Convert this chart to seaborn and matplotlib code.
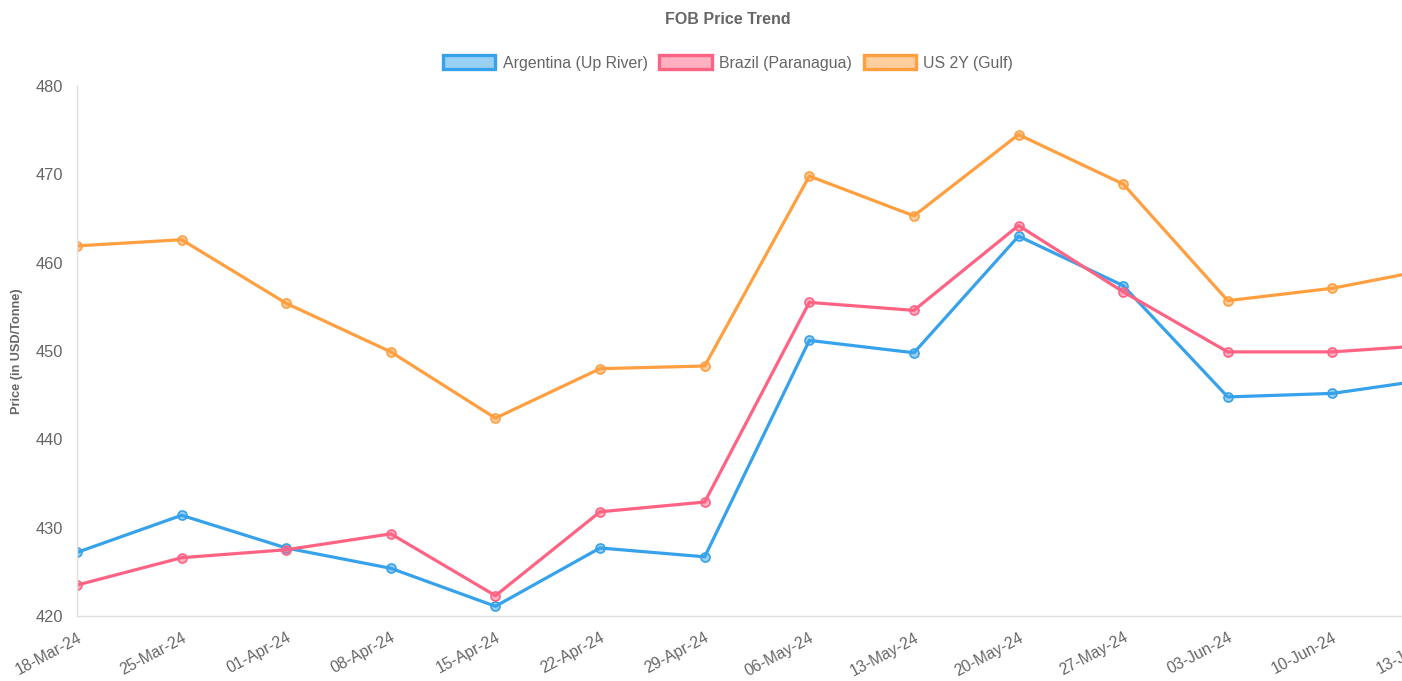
import matplotlib
matplotlib.use("Agg")
import matplotlib.pyplot as plt
import seaborn as sns
import pandas as pd
from matplotlib.patches import Patch
from matplotlib.colors import to_rgba

dates = ["18-Mar-24", "25-Mar-24", "01-Apr-24", "08-Apr-24", "15-Apr-24", "22-Apr-24",
         "29-Apr-24", "06-May-24", "13-May-24", "20-May-24", "27-May-24", "03-Jun-24",
         "10-Jun-24", "13-Jun-24"]
argentina = [427.2, 431.4, 427.7, 425.4, 421.1, 427.7, 426.7, 451.2, 449.8, 463.0, 457.4,
             444.8, 445.2, 446.9]
brazil = [423.5, 426.6, 427.5, 429.3, 422.3, 431.8, 432.9, 455.5, 454.6, 464.2, 456.7,
          449.9, 449.9, 450.7]
us2y = [461.9, 462.6, 455.4, 449.9, 442.4, 448.0, 448.3, 469.8, 465.3, 474.5, 468.9,
        455.7, 457.1, 459.4]
series_names = ["Argentina (Up River)", "Brazil (Paranagua)", "US 2Y (Gulf)"]
colors = ["#36A2EB", "#FF6384", "#FF9F40"]
y_ticks = [420, 430, 440, 450, 460, 470, 480]

sns.set_style("white")
plt.rcParams["font.family"] = ["Liberation Sans", "DejaVu Sans"]

W, H = 1402, 681
fig = plt.figure(figsize=(W / 100, H / 100), dpi=100)
ax = fig.add_axes([77 / W, 1 - 616 / H, (1437 - 77) / W, (616 - 86) / H])

idx = list(range(len(dates)))
for name, vals, c in zip(series_names, [argentina, brazil, us2y], colors):
    df = pd.DataFrame({"x": idx, "y": vals})
    sns.lineplot(data=df, x="x", y="y", ax=ax, color=c, linewidth=2.3,
                 marker="o", markersize=6.5, markerfacecolor=to_rgba(c, 0.5),
                 markeredgecolor=c, markeredgewidth=1.2, clip_on=True)

ax.set_xlim(0, len(dates) - 1)
ax.set_ylim(420, 480)
ax.set_yticks(y_ticks)
ax.set_xticks(idx)
ax.set_xticklabels(dates, rotation=28, ha="right", rotation_mode="anchor")
ax.tick_params(axis="both", length=0, labelsize=11.8, labelcolor="#666666")
ax.tick_params(axis="x", labelsize=11.3)
ax.tick_params(axis="y", pad=10)
ax.tick_params(axis="x", pad=10)
ax.set_xlabel("")
ax.set_ylabel("")
for s in ["top", "right"]:
    ax.spines[s].set_visible(False)
for s in ["left", "bottom"]:
    ax.spines[s].set_color("#e0e0e0")
    ax.spines[s].set_linewidth(1)
ax.grid(False)

fig.text(17 / W, 1 - 351 / H, "Price (in USD/Tonne)", rotation=90, ha="center", va="center",
         fontsize=9.2, fontweight="bold", color="#666666")

fig.text(728 / W, 1 - 19 / H, "FOB Price Trend", ha="center", va="center",
         fontsize=11.5, fontweight="bold", color="#666666")

handles = [Patch(facecolor=to_rgba(c, 0.5), edgecolor=c, linewidth=2.4) for c in colors]
fig.legend(handles, series_names, loc="center", bbox_to_anchor=(728 / W, 1 - 63 / H),
           ncol=3, frameon=False, fontsize=11.4, labelcolor="#666666",
           handlelength=3.3, handleheight=1.0, handletextpad=0.45, columnspacing=0.75)

fig.savefig("out.png", dpi=100)
